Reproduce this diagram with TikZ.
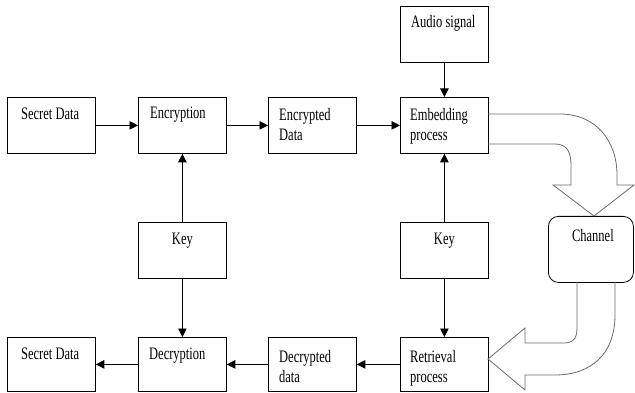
\documentclass[tikz,border=0pt]{standalone}
\usepackage{fontspec}
\setmainfont{Liberation Serif}[FakeStretch=0.714]
\usetikzlibrary{arrows.meta}
\newcommand{\twolines}[2]{\vtop{\hbox{#1}\hbox{#2}}}
\begin{document}
\begin{tikzpicture}[x=1pt,y=-1pt,
  box/.style={draw, line width=0.8pt, minimum width=88pt, minimum height=56pt, anchor=north west, inner sep=0pt},
  txt/.style={font=\fontsize{17.5}{20}\selectfont, inner sep=0pt, anchor=base west},
  arr/.style={line width=0.8pt, -{Triangle[length=8.5pt,width=8.5pt]}},
  blk/.style={draw=black!58, line width=0.8pt, line join=miter}]
\useasboundingbox (0,0) rectangle (635,393);
% boxes
\node[box] (sd1) at (7,97) {};
\node[box] (enc) at (138,97) {};
\node[box] (ed) at (268,97) {};
\node[box] (emb) at (400,97) {};
\node[box] (aud) at (400,6) {};
\node[box] (k1) at (138,222) {};
\node[box] (k2) at (400,222) {};
\node[box, rounded corners=10pt, minimum width=85pt, minimum height=66pt] (ch) at (548,216) {};
\node[box, minimum height=54pt] (sd2) at (7,337) {};
\node[box, minimum height=54pt] (dec) at (138,337) {};
\node[box, minimum height=54pt] (dd) at (268,337) {};
\node[box, minimum height=54pt] (ret) at (400,337) {};
% texts
\node[txt] (sd1t) at ([shift={(14,23)}]sd1.north west) {Secret Data};
\node[txt] (enct) at ([shift={(12,22)}]enc.north west) {Encryption};
\node[txt] (edt) at ([shift={(11,24)}]ed.north west) {\twolines{Encrypted}{Data}};
\node[txt] (embt) at ([shift={(10,24)}]emb.north west) {\twolines{Embedding}{process}};
\node[txt] (audt) at ([shift={(11,22)}]aud.north west) {Audio signal};
\node[txt, anchor=base] (k1t) at ([shift={(0,22)}]k1.north) {Key};
\node[txt, anchor=base] (k2t) at ([shift={(0,22)}]k2.north) {Key};
\node[txt, anchor=base] (cht) at ([shift={(2,25)}]ch.north) {Channel};
\node[txt] (sd2t) at ([shift={(14,22)}]sd2.north west) {Secret Data};
\node[txt] (dect) at ([shift={(11,22)}]dec.north west) {Decryption};
\node[txt] (ddt) at ([shift={(11,25)}]dd.north west) {\twolines{Decrypted}{data}};
\node[txt] (rett) at ([shift={(10,25)}]ret.north west) {\twolines{Retrieval}{process}};
% arrows
\draw[arr] (sd1) -- (enc);
\draw[arr] (enc) -- (ed);
\draw[arr] (ed) -- (emb);
\draw[arr] (aud) -- (emb);
\draw[arr] (k1) -- (enc);
\draw[arr] (k1) -- (dec);
\draw[arr] (k2) -- (emb);
\draw[arr] (k2) -- (ret);
\draw[arr] (ret) -- (dd);
\draw[arr] (dd) -- (dec);
\draw[arr] (dec) -- (sd2);
% block arrows
\draw[blk] (488,114) -- (560,114) .. controls (595,114) and (617,140) .. (617,175) -- (617,185) -- (634,185) -- (594,216) -- (553,185) -- (571,185) -- (571,165) .. controls (571,152) and (567,144) .. (555,144) -- (488,144);
\draw[blk] (577,282) -- (577,328) .. controls (577,340) and (572,343) .. (563,343) -- (525,343) -- (525,328) -- (488,359) -- (525,390) -- (525,375) -- (555,375) .. controls (590,375) and (615,355) .. (615,315) -- (615,282);
\end{tikzpicture}
\end{document}
